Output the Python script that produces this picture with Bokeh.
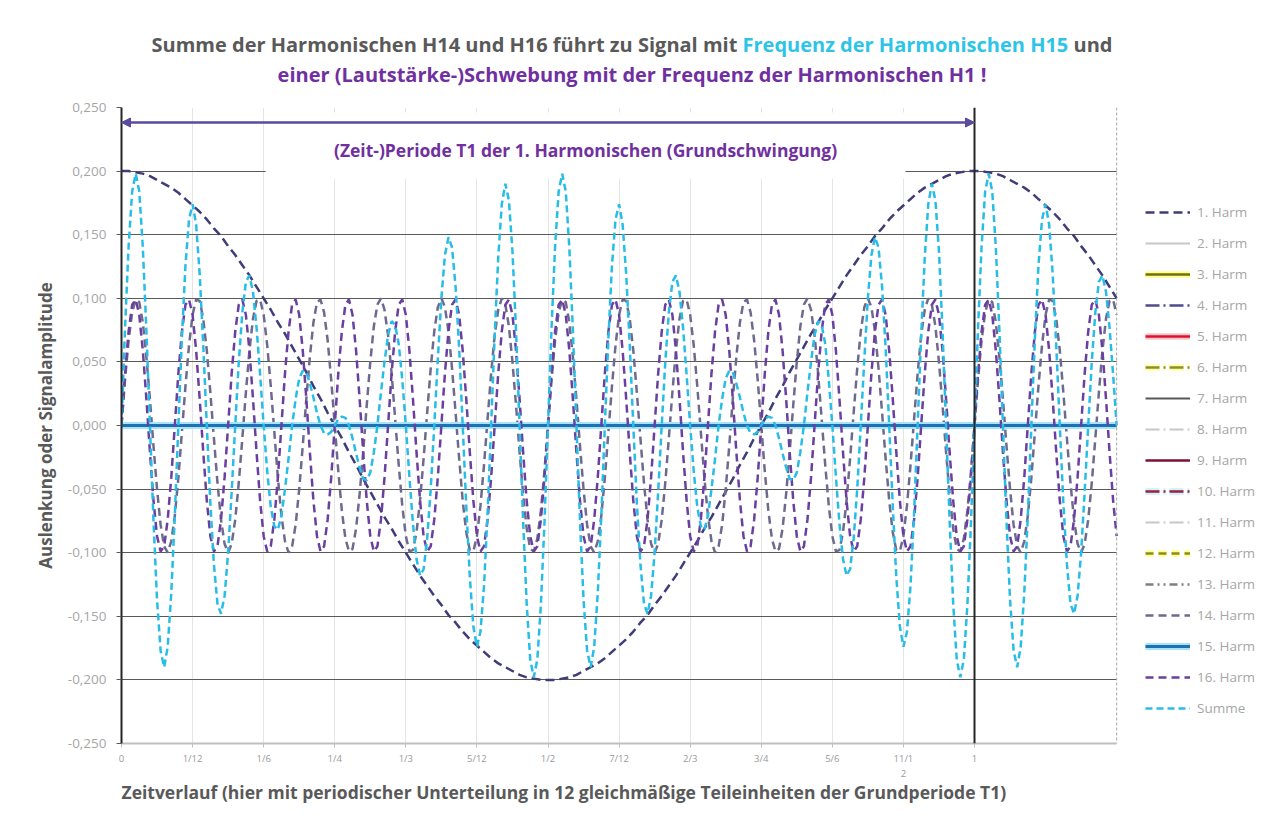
from bokeh.plotting import figure
from bokeh.layouts import column
from bokeh.models import (Range1d, FixedTicker, Label, Legend, LegendItem, Arrow,
                          NormalHead, Span, BoxAnnotation, Title, Div)
from bokeh.embed import file_html
from bokeh.resources import INLINE

# ---------------- data ----------------
# fundamental (1. Harm) sampled at T1/120, over 0 .. 7/6 T1
t1 = [k / 120 for k in range(141)]
h1 = [0.200, 0.200, 0.199, 0.198, 0.196, 0.193, 0.190, 0.187, 0.183, 0.178,
      0.173, 0.168, 0.162, 0.155, 0.149, 0.141, 0.134, 0.126, 0.118, 0.109,
      0.100, 0.091, 0.081, 0.072, 0.062, 0.052, 0.042, 0.031, 0.021, 0.010,
      0.000, -0.010, -0.021, -0.031, -0.042, -0.052, -0.062, -0.072, -0.081, -0.091,
      -0.100, -0.109, -0.118, -0.126, -0.134, -0.141, -0.149, -0.155, -0.162, -0.168,
      -0.173, -0.178, -0.183, -0.187, -0.190, -0.193, -0.196, -0.198, -0.199, -0.200,
      -0.200, -0.200, -0.199, -0.198, -0.196, -0.193, -0.190, -0.187, -0.183, -0.178,
      -0.173, -0.168, -0.162, -0.155, -0.149, -0.141, -0.134, -0.126, -0.118, -0.109,
      -0.100, -0.091, -0.081, -0.072, -0.062, -0.052, -0.042, -0.031, -0.021, -0.010,
      0.000, 0.010, 0.021, 0.031, 0.042, 0.052, 0.062, 0.072, 0.081, 0.091,
      0.100, 0.109, 0.118, 0.126, 0.134, 0.141, 0.149, 0.155, 0.162, 0.168,
      0.173, 0.178, 0.183, 0.187, 0.190, 0.193, 0.196, 0.198, 0.199, 0.200,
      0.200, 0.200, 0.199, 0.198, 0.196, 0.193, 0.190, 0.187, 0.183, 0.178,
      0.173, 0.168, 0.162, 0.155, 0.149, 0.141, 0.134, 0.126, 0.118, 0.109,
      0.100]

# harmonics 2..13 and 15 have zero amplitude in this chart
flat = [0.0] * 141

# 14. Harm, 16. Harm and their sum sampled at T1/240
t2 = [k / 240 for k in range(281)]
h14 = [
    0.000, 0.036, 0.067, 0.089, 0.099, 0.097, 0.081, 0.054, 0.021, -0.016,
    -0.050, -0.078, -0.095, -0.100, -0.091, -0.071, -0.041, -0.005, 0.031, 0.063,
    0.087, 0.099, 0.098, 0.084, 0.059, 0.026, -0.010, -0.045, -0.074, -0.093,
    -0.100, -0.093, -0.074, -0.045, -0.010, 0.026, 0.059, 0.084, 0.098, 0.099,
    0.087, 0.063, 0.031, -0.005, -0.041, -0.071, -0.091, -0.100, -0.095, -0.078,
    -0.050, -0.016, 0.021, 0.054, 0.081, 0.097, 0.099, 0.089, 0.067, 0.036,
    0.000, -0.036, -0.067, -0.089, -0.099, -0.097, -0.081, -0.054, -0.021, 0.016,
    0.050, 0.078, 0.095, 0.100, 0.091, 0.071, 0.041, 0.005, -0.031, -0.063,
    -0.087, -0.099, -0.098, -0.084, -0.059, -0.026, 0.010, 0.045, 0.074, 0.093,
    0.100, 0.093, 0.074, 0.045, 0.010, -0.026, -0.059, -0.084, -0.098, -0.099,
    -0.087, -0.063, -0.031, 0.005, 0.041, 0.071, 0.091, 0.100, 0.095, 0.078,
    0.050, 0.016, -0.021, -0.054, -0.081, -0.097, -0.099, -0.089, -0.067, -0.036,
    0.000, 0.036, 0.067, 0.089, 0.099, 0.097, 0.081, 0.054, 0.021, -0.016,
    -0.050, -0.078, -0.095, -0.100, -0.091, -0.071, -0.041, -0.005, 0.031, 0.063,
    0.087, 0.099, 0.098, 0.084, 0.059, 0.026, -0.010, -0.045, -0.074, -0.093,
    -0.100, -0.093, -0.074, -0.045, -0.010, 0.026, 0.059, 0.084, 0.098, 0.099,
    0.087, 0.063, 0.031, -0.005, -0.041, -0.071, -0.091, -0.100, -0.095, -0.078,
    -0.050, -0.016, 0.021, 0.054, 0.081, 0.097, 0.099, 0.089, 0.067, 0.036,
    0.000, -0.036, -0.067, -0.089, -0.099, -0.097, -0.081, -0.054, -0.021, 0.016,
    0.050, 0.078, 0.095, 0.100, 0.091, 0.071, 0.041, 0.005, -0.031, -0.063,
    -0.087, -0.099, -0.098, -0.084, -0.059, -0.026, 0.010, 0.045, 0.074, 0.093,
    0.100, 0.093, 0.074, 0.045, 0.010, -0.026, -0.059, -0.084, -0.098, -0.099,
    -0.087, -0.063, -0.031, 0.005, 0.041, 0.071, 0.091, 0.100, 0.095, 0.078,
    0.050, 0.016, -0.021, -0.054, -0.081, -0.097, -0.099, -0.089, -0.067, -0.036,
    0.000, 0.036, 0.067, 0.089, 0.099, 0.097, 0.081, 0.054, 0.021, -0.016,
    -0.050, -0.078, -0.095, -0.100, -0.091, -0.071, -0.041, -0.005, 0.031, 0.063,
    0.087, 0.099, 0.098, 0.084, 0.059, 0.026, -0.010, -0.045, -0.074, -0.093,
    -0.100, -0.093, -0.074, -0.045, -0.010, 0.026, 0.059, 0.084, 0.098, 0.099,
    0.087]

h16 = [
    0.000, 0.041, 0.074, 0.095, 0.099, 0.087, 0.059, 0.021, -0.021, -0.059, -0.087, -0.099, -0.095, -0.074, -0.041,
    0.000, 0.041, 0.074, 0.095, 0.099, 0.087, 0.059, 0.021, -0.021, -0.059, -0.087, -0.099, -0.095, -0.074, -0.041,
    0.000, 0.041, 0.074, 0.095, 0.099, 0.087, 0.059, 0.021, -0.021, -0.059, -0.087, -0.099, -0.095, -0.074, -0.041,
    0.000, 0.041, 0.074, 0.095, 0.099, 0.087, 0.059, 0.021, -0.021, -0.059, -0.087, -0.099, -0.095, -0.074, -0.041,
    0.000, 0.041, 0.074, 0.095, 0.099, 0.087, 0.059, 0.021, -0.021, -0.059, -0.087, -0.099, -0.095, -0.074, -0.041,
    0.000, 0.041, 0.074, 0.095, 0.099, 0.087, 0.059, 0.021, -0.021, -0.059, -0.087, -0.099, -0.095, -0.074, -0.041,
    0.000, 0.041, 0.074, 0.095, 0.099, 0.087, 0.059, 0.021, -0.021, -0.059, -0.087, -0.099, -0.095, -0.074, -0.041,
    0.000, 0.041, 0.074, 0.095, 0.099, 0.087, 0.059, 0.021, -0.021, -0.059, -0.087, -0.099, -0.095, -0.074, -0.041,
    0.000, 0.041, 0.074, 0.095, 0.099, 0.087, 0.059, 0.021, -0.021, -0.059, -0.087, -0.099, -0.095, -0.074, -0.041,
    0.000, 0.041, 0.074, 0.095, 0.099, 0.087, 0.059, 0.021, -0.021, -0.059, -0.087, -0.099, -0.095, -0.074, -0.041,
    0.000, 0.041, 0.074, 0.095, 0.099, 0.087, 0.059, 0.021, -0.021, -0.059, -0.087, -0.099, -0.095, -0.074, -0.041,
    0.000, 0.041, 0.074, 0.095, 0.099, 0.087, 0.059, 0.021, -0.021, -0.059, -0.087, -0.099, -0.095, -0.074, -0.041,
    0.000, 0.041, 0.074, 0.095, 0.099, 0.087, 0.059, 0.021, -0.021, -0.059, -0.087, -0.099, -0.095, -0.074, -0.041,
    0.000, 0.041, 0.074, 0.095, 0.099, 0.087, 0.059, 0.021, -0.021, -0.059, -0.087, -0.099, -0.095, -0.074, -0.041,
    0.000, 0.041, 0.074, 0.095, 0.099, 0.087, 0.059, 0.021, -0.021, -0.059, -0.087, -0.099, -0.095, -0.074, -0.041,
    0.000, 0.041, 0.074, 0.095, 0.099, 0.087, 0.059, 0.021, -0.021, -0.059, -0.087, -0.099, -0.095, -0.074, -0.041,
    0.000, 0.041, 0.074, 0.095, 0.099, 0.087, 0.059, 0.021, -0.021, -0.059, -0.087, -0.099, -0.095, -0.074, -0.041,
    0.000, 0.041, 0.074, 0.095, 0.099, 0.087, 0.059, 0.021, -0.021, -0.059, -0.087, -0.099, -0.095, -0.074, -0.041,
    0.000, 0.041, 0.074, 0.095, 0.099, 0.087, 0.059, 0.021, -0.021, -0.059, -0.087]

summe = [
    0.000, 0.077, 0.141, 0.184, 0.198, 0.184, 0.140, 0.075, 0.000, -0.075,
    -0.137, -0.177, -0.190, -0.174, -0.132, -0.071, 0.000, 0.069, 0.126, 0.162,
    0.174, 0.158, 0.119, 0.063, 0.000, -0.061, -0.109, -0.140, -0.148, -0.134,
    -0.100, -0.052, 0.000, 0.050, 0.089, 0.113, 0.118, 0.105, 0.077, 0.040,
    0.000, -0.036, -0.064, -0.079, -0.082, -0.071, -0.050, -0.026, 0.000, 0.021,
    0.037, 0.043, 0.042, 0.033, 0.022, 0.010, 0.000, -0.006, -0.007, -0.005,
    0.000, 0.005, 0.007, 0.006, 0.000, -0.010, -0.022, -0.033, -0.042, -0.043,
    -0.037, -0.021, 0.000, 0.026, 0.050, 0.071, 0.082, 0.079, 0.064, 0.036,
    0.000, -0.040, -0.077, -0.105, -0.118, -0.113, -0.089, -0.050, 0.000, 0.052,
    0.100, 0.134, 0.148, 0.140, 0.109, 0.061, 0.000, -0.063, -0.119, -0.158,
    -0.174, -0.162, -0.126, -0.069, 0.000, 0.071, 0.132, 0.174, 0.190, 0.177,
    0.137, 0.075, 0.000, -0.075, -0.140, -0.184, -0.198, -0.184, -0.141, -0.077,
    0.000, 0.077, 0.141, 0.184, 0.198, 0.184, 0.140, 0.075, 0.000, -0.075,
    -0.137, -0.177, -0.190, -0.174, -0.132, -0.071, 0.000, 0.069, 0.126, 0.162,
    0.174, 0.158, 0.119, 0.063, 0.000, -0.061, -0.109, -0.140, -0.148, -0.134,
    -0.100, -0.052, 0.000, 0.050, 0.089, 0.113, 0.118, 0.105, 0.077, 0.040,
    0.000, -0.036, -0.064, -0.079, -0.082, -0.071, -0.050, -0.026, 0.000, 0.021,
    0.037, 0.043, 0.042, 0.033, 0.022, 0.010, 0.000, -0.006, -0.007, -0.005,
    0.000, 0.005, 0.007, 0.006, 0.000, -0.010, -0.022, -0.033, -0.042, -0.043,
    -0.037, -0.021, 0.000, 0.026, 0.050, 0.071, 0.082, 0.079, 0.064, 0.036,
    0.000, -0.040, -0.077, -0.105, -0.118, -0.113, -0.089, -0.050, 0.000, 0.052,
    0.100, 0.134, 0.148, 0.140, 0.109, 0.061, 0.000, -0.063, -0.119, -0.158,
    -0.174, -0.162, -0.126, -0.069, 0.000, 0.071, 0.132, 0.174, 0.190, 0.177,
    0.137, 0.075, 0.000, -0.075, -0.140, -0.184, -0.198, -0.184, -0.141, -0.077,
    0.000, 0.077, 0.141, 0.184, 0.198, 0.184, 0.140, 0.075, 0.000, -0.075,
    -0.137, -0.177, -0.190, -0.174, -0.132, -0.071, 0.000, 0.069, 0.126, 0.162,
    0.174, 0.158, 0.119, 0.063, 0.000, -0.061, -0.109, -0.140, -0.148, -0.134,
    -0.100, -0.052, 0.000, 0.050, 0.089, 0.113, 0.118, 0.105, 0.077, 0.040,
    0.000]

x_ticks = [k / 12 for k in range(13)]
x_labels = ["0", "1/12", "1/6", "1/4", "1/3", "5/12", "1/2", "7/12", "2/3",
            "3/4", "5/6", "11/1\n2", "1"]
y_ticks = [-0.25, -0.2, -0.15, -0.1, -0.05, 0.0, 0.05, 0.1, 0.15, 0.2, 0.25]
y_labels = ["-0,250", "-0,200", "-0,150", "-0,100", "-0,050", "0,000",
            "0,050", "0,100", "0,150", "0,200", "0,250"]

series_names = ["1. Harm", "2. Harm", "3. Harm", "4. Harm", "5. Harm", "6. Harm",
                "7. Harm", "8. Harm", "9. Harm", "10. Harm", "11. Harm", "12. Harm",
                "13. Harm", "14. Harm", "15. Harm", "16. Harm", "Summe"]
series_x = [t1] * 13 + [t2, t1, t2, t2]
series_values = [h1, flat, flat, flat, flat, flat, flat, flat, flat, flat, flat,
                 flat, flat, h14, flat, h16, summe]

# style per series: colour, width, dash, glow colour
styles = [
    ("#3F3C78", 2.5, "9 5", None),
    ("#C8C8C8", 2, "solid", None),
    ("#6F6F10", 2.5, "solid", "#FFFF8C"),
    ("#4E4C8C", 2.5, "14 4 2 4", None),
    ("#E01030", 2.5, "solid", "#F6C8C8"),
    ("#8C8C30", 2.5, "14 4 2 4", "#FFFFA0"),
    ("#595959", 2, "solid", None),
    ("#C8C8C8", 2, "14 4 2 4", None),
    ("#7A1035", 2.5, "solid", None),
    ("#A01E3C", 2.5, "14 4 2 4", "#C8F2FA"),
    ("#C8C8C8", 2, "14 4 2 4", None),
    ("#8C8C20", 2.5, "8 5", "#FFFF8C"),
    ("#7F7F7F", 2.5, "8 4 2 4 2 4", None),
    ("#6E6A8E", 2.5, "8 5", None),
    ("#1F6FB5", 3, "solid", "#A8E4F8"),
    ("#6A3FA0", 2.5, "8 5", None),
    ("#27BDE6", 2.5, "7 4", None),
]

FONT = "Open Sans"
X_END = 7 / 6            # end of the time axis
X_FRAME_END = 1143 / 853  # plot frame continues under the legend

# ---------------- title (two lines, coloured parts) ----------------
title_html = (
    '<div style="width:1244px;padding-left:20px;text-align:center;'
    'font-family:\'Open Sans\';font-weight:bold;font-size:20px;line-height:30px;'
    'color:#595959;padding-top:30px;">'
    'Summe der Harmonischen H14 und H16 führt zu Signal mit '
    '<span style="color:#2EC4E8">Frequenz der Harmonischen H15</span> und<br>'
    '<span style="color:#7030A0">einer (Lautstärke-)Schwebung mit der Frequenz der Harmonischen H1 !</span>'
    '</div>'
)
title_div = Div(text=title_html, width=1264, height=90, margin=(0, 0, 0, 0))

# ---------------- main chart ----------------
p = figure(width=1264, height=735, output_backend="svg", toolbar_location=None,
           x_range=Range1d(0, X_FRAME_END), y_range=Range1d(-0.25, 0.25),
           min_border_left=121, min_border_right=0, min_border_top=17,
           min_border_bottom=82)
p.outline_line_color = None
p.background_fill_color = "white"
p.border_fill_color = "white"

p.xaxis.ticker = FixedTicker(ticks=x_ticks)
p.xaxis.bounds = (0, X_END)
p.xaxis.major_label_overrides = {v: s for v, s in zip(x_ticks, x_labels)}
p.xaxis.axis_line_color = "#BFBFBF"
p.xaxis.axis_line_width = 2
p.xaxis.major_tick_line_color = "#BFBFBF"
p.xaxis.major_tick_out = 4
p.xaxis.major_tick_in = 0
p.xaxis.minor_tick_line_color = None
p.xaxis.major_label_text_font = FONT
p.xaxis.major_label_text_font_size = "9.5px"
p.xaxis.major_label_text_color = "#9A9A9A"
p.xaxis.major_label_standoff = 4

p.yaxis.ticker = FixedTicker(ticks=y_ticks)
p.yaxis.major_label_overrides = {v: s for v, s in zip(y_ticks, y_labels)}
p.yaxis.axis_line_color = "#262626"
p.yaxis.axis_line_width = 2
p.yaxis.major_tick_line_color = "#595959"
p.yaxis.major_tick_out = 5
p.yaxis.major_tick_in = 0
p.yaxis.minor_tick_line_color = None
p.yaxis.major_label_text_font = FONT
p.yaxis.major_label_text_font_size = "13.5px"
p.yaxis.major_label_text_color = "#A6A6A6"
p.yaxis.major_label_standoff = 10
p.yaxis.axis_label = "Auslenkung oder Signalamplitude"
p.yaxis.axis_label_text_font = FONT
p.yaxis.axis_label_text_font_style = "bold"
p.yaxis.axis_label_text_font_size = "17px"
p.yaxis.axis_label_text_color = "#595959"
p.yaxis.axis_label_standoff = 8

p.ygrid.ticker = FixedTicker(ticks=y_ticks)
p.ygrid.grid_line_color = "#595959"
p.ygrid.grid_line_width = 1
p.xgrid.ticker = FixedTicker(ticks=x_ticks)
p.xgrid.grid_line_color = "#E4E4E4"
p.xgrid.grid_line_width = 1

# x axis title, left aligned with the plot area
p.add_layout(Title(text="Zeitverlauf (hier mit periodischer Unterteilung in 12 gleichmäßige Teileinheiten der Grundperiode T1)",
                   align="left", text_font=FONT, text_font_style="bold",
                   text_font_size="17.5px", text_color="#595959", standoff=-11), "below")

# white areas: legend area right of the plot, and the text box of the period note
p.add_layout(BoxAnnotation(left=X_END, fill_color="white", fill_alpha=1,
                           line_color=None, level="underlay"))
p.add_layout(BoxAnnotation(left=0.169, right=0.919, bottom=0.194, top=0.246,
                           fill_color="white", fill_alpha=1, line_color=None,
                           level="underlay"))

items = []
for name, xs, vals, (col, w, dash, glow) in zip(series_names, series_x, series_values, styles):
    rends = []
    if glow is not None:
        rends.append(p.line(xs, vals, line_color=glow, line_width=w + 4, line_dash=dash))
    rends.append(p.line(xs, vals, line_color=col, line_width=w, line_dash=dash))
    items.append(LegendItem(label=name, renderers=rends))

legend = Legend(items=items, location=(1024, 25))
legend.background_fill_alpha = 0
legend.border_line_color = None
legend.label_text_font = FONT
legend.label_text_font_size = "13.5px"
legend.label_text_color = "#A6A6A6"
legend.glyph_width = 45
legend.glyph_height = 20
legend.label_height = 20
legend.spacing = 11
legend.padding = 0
legend.margin = 0
legend.label_standoff = 7
p.add_layout(legend)

p.add_layout(Span(location=1, dimension="height", line_color="#262626", line_width=2))
p.add_layout(Span(location=X_END, dimension="height", line_color="#A6A6A6",
                  line_width=1, line_dash="3 2"))
p.add_layout(Arrow(start=NormalHead(size=9, fill_color="#5B4A9E", line_color="#5B4A9E"),
                   end=NormalHead(size=9, fill_color="#5B4A9E", line_color="#5B4A9E"),
                   x_start=0, y_start=0.2382, x_end=1, y_end=0.2382,
                   line_color="#5B4A9E", line_width=2.5))
p.add_layout(Label(x=0.544, y=0.2162, text="(Zeit-)Periode T1 der 1. Harmonischen (Grundschwingung)",
                   text_font=FONT, text_font_style="bold", text_font_size="17.5px",
                   text_color="#7030A0", text_align="center", text_baseline="middle"))

layout = column(title_div, p, spacing=0)
open("out.html", "w").write(file_html(layout, INLINE))
